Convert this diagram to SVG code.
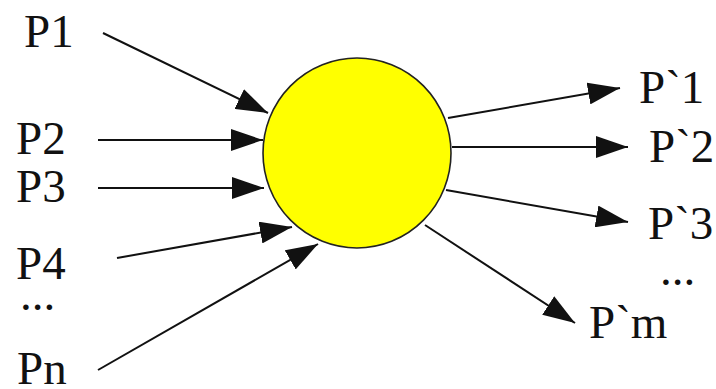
<svg xmlns="http://www.w3.org/2000/svg" width="716" height="389" viewBox="0 0 716 389">
<style>
.t { font-family: 'Liberation Serif', 'Times New Roman', serif; font-size: 47px; fill: #111; }
.c line { stroke: #111; stroke-width: 2; marker-end: url(#ah); }
</style>
<defs>
<marker id="ah" markerUnits="userSpaceOnUse" markerWidth="32" markerHeight="22" refX="32" refY="11" orient="auto">
<path d="M0,0 L32,11 L0,22 z" fill="#111"/>
</marker>
</defs>
<rect width="716" height="389" fill="#fff"/>
<g id="node-center">
<ellipse cx="357" cy="153" rx="94" ry="95" fill="#ffff00" stroke="#222" stroke-width="1.6"/>
</g>
<g class="c" id="connectors">
<line x1="103" y1="33" x2="268" y2="113"/>
<line x1="98" y1="140" x2="263" y2="140"/>
<line x1="98" y1="188" x2="264" y2="188"/>
<line x1="117" y1="258" x2="292" y2="227"/>
<line x1="98" y1="370" x2="318" y2="244"/>
<line x1="448" y1="118" x2="620" y2="88"/>
<line x1="452" y1="147" x2="628" y2="147"/>
<line x1="446" y1="190" x2="628" y2="222"/>
<line x1="425" y1="225" x2="575" y2="323"/>
</g>
<g id="node-P1"><text class="t" x="24" y="47">P1</text></g>
<g id="node-P2"><text class="t" x="16" y="154">P2</text></g>
<g id="node-P3"><text class="t" x="16" y="202">P3</text></g>
<g id="node-P4"><text class="t" x="16" y="279">P4</text></g>
<g id="node-dots-left"><text class="t" x="20" y="310">...</text></g>
<g id="node-Pn"><text class="t" x="17" y="384">Pn</text></g>
<g id="node-Q1"><text class="t" x="639" y="103">P`1</text></g>
<g id="node-Q2"><text class="t" x="649" y="162">P`2</text></g>
<g id="node-Q3"><text class="t" x="648" y="239">P`3</text></g>
<g id="node-dots-right"><text class="t" x="660" y="285">...</text></g>
<g id="node-Qm"><text class="t" x="589" y="338">P`m</text></g>
</svg>
